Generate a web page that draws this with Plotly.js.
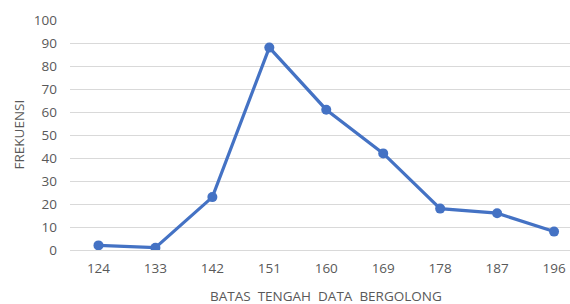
<!DOCTYPE html>
<html>
<head>
<meta charset="utf-8">
<script src="https://cdn.plot.ly/plotly-3.0.1.min.js"></script>
<style>html,body{margin:0;padding:0;background:#fff;}#chart{width:570px;height:304px;}</style>
</head>
<body>
<div id="chart"></div>
<script>
const categories = ["124", "133", "142", "151", "160", "169", "178", "187", "196"];
const frekuensi = [2, 1, 23, 88, 61, 42, 18, 16, 8];
const yTicks = [0, 10, 20, 30, 40, 50, 60, 70, 80, 90, 100];
const xTitle = "BATAS\u00a0 TENGAH\u00a0 DATA\u00a0 BERGOLONG";
const yTitle = "FREKUENSI";

const font = {family: "Open Sans, Liberation Sans, sans-serif", size: 13.5, color: "#595959"};

const trace = {
  x: categories.map((c, i) => i),
  y: frekuensi,
  type: "scatter",
  mode: "lines+markers",
  line: {color: "#4472C4", width: 3.2},
  marker: {color: "#4472C4", size: 10},
  hoverinfo: "skip"
};

const layout = {
  width: 570, height: 304,
  margin: {l: 69.5, r: 0, t: 20, b: 54},
  paper_bgcolor: "#fff", plot_bgcolor: "#fff",
  font: font,
  showlegend: false,
  xaxis: {
    range: [-0.5, 8.28],
    tickmode: "array",
    tickvals: categories.map((c, i) => i),
    ticktext: categories,
    showgrid: false, zeroline: false,
    showline: false, ticks: "",
    ticklabelstandoff: 8,
    tickfont: font
  },
  yaxis: {
    range: [0, 100],
    tickmode: "array",
    tickvals: yTicks,
    showgrid: true, gridcolor: "#d9d9d9", gridwidth: 1,
    zeroline: true, zerolinecolor: "#d9d9d9", zerolinewidth: 1,
    showline: false, ticks: "",
    ticklabelstandoff: 12,
    tickfont: font
  },
  annotations: [
    {text: xTitle, xref: "x", yref: "paper", x: 4, y: 0, yshift: -46,
     xanchor: "center", yanchor: "middle", showarrow: false, font: font},
    {text: yTitle, xref: "paper", yref: "paper", x: -0.103, y: 0.5,
     xanchor: "center", yanchor: "middle", textangle: -90, showarrow: false, font: font}
  ]
};

Plotly.newPlot("chart", [trace], layout, {staticPlot: true, displayModeBar: false});
</script>
</body>
</html>
